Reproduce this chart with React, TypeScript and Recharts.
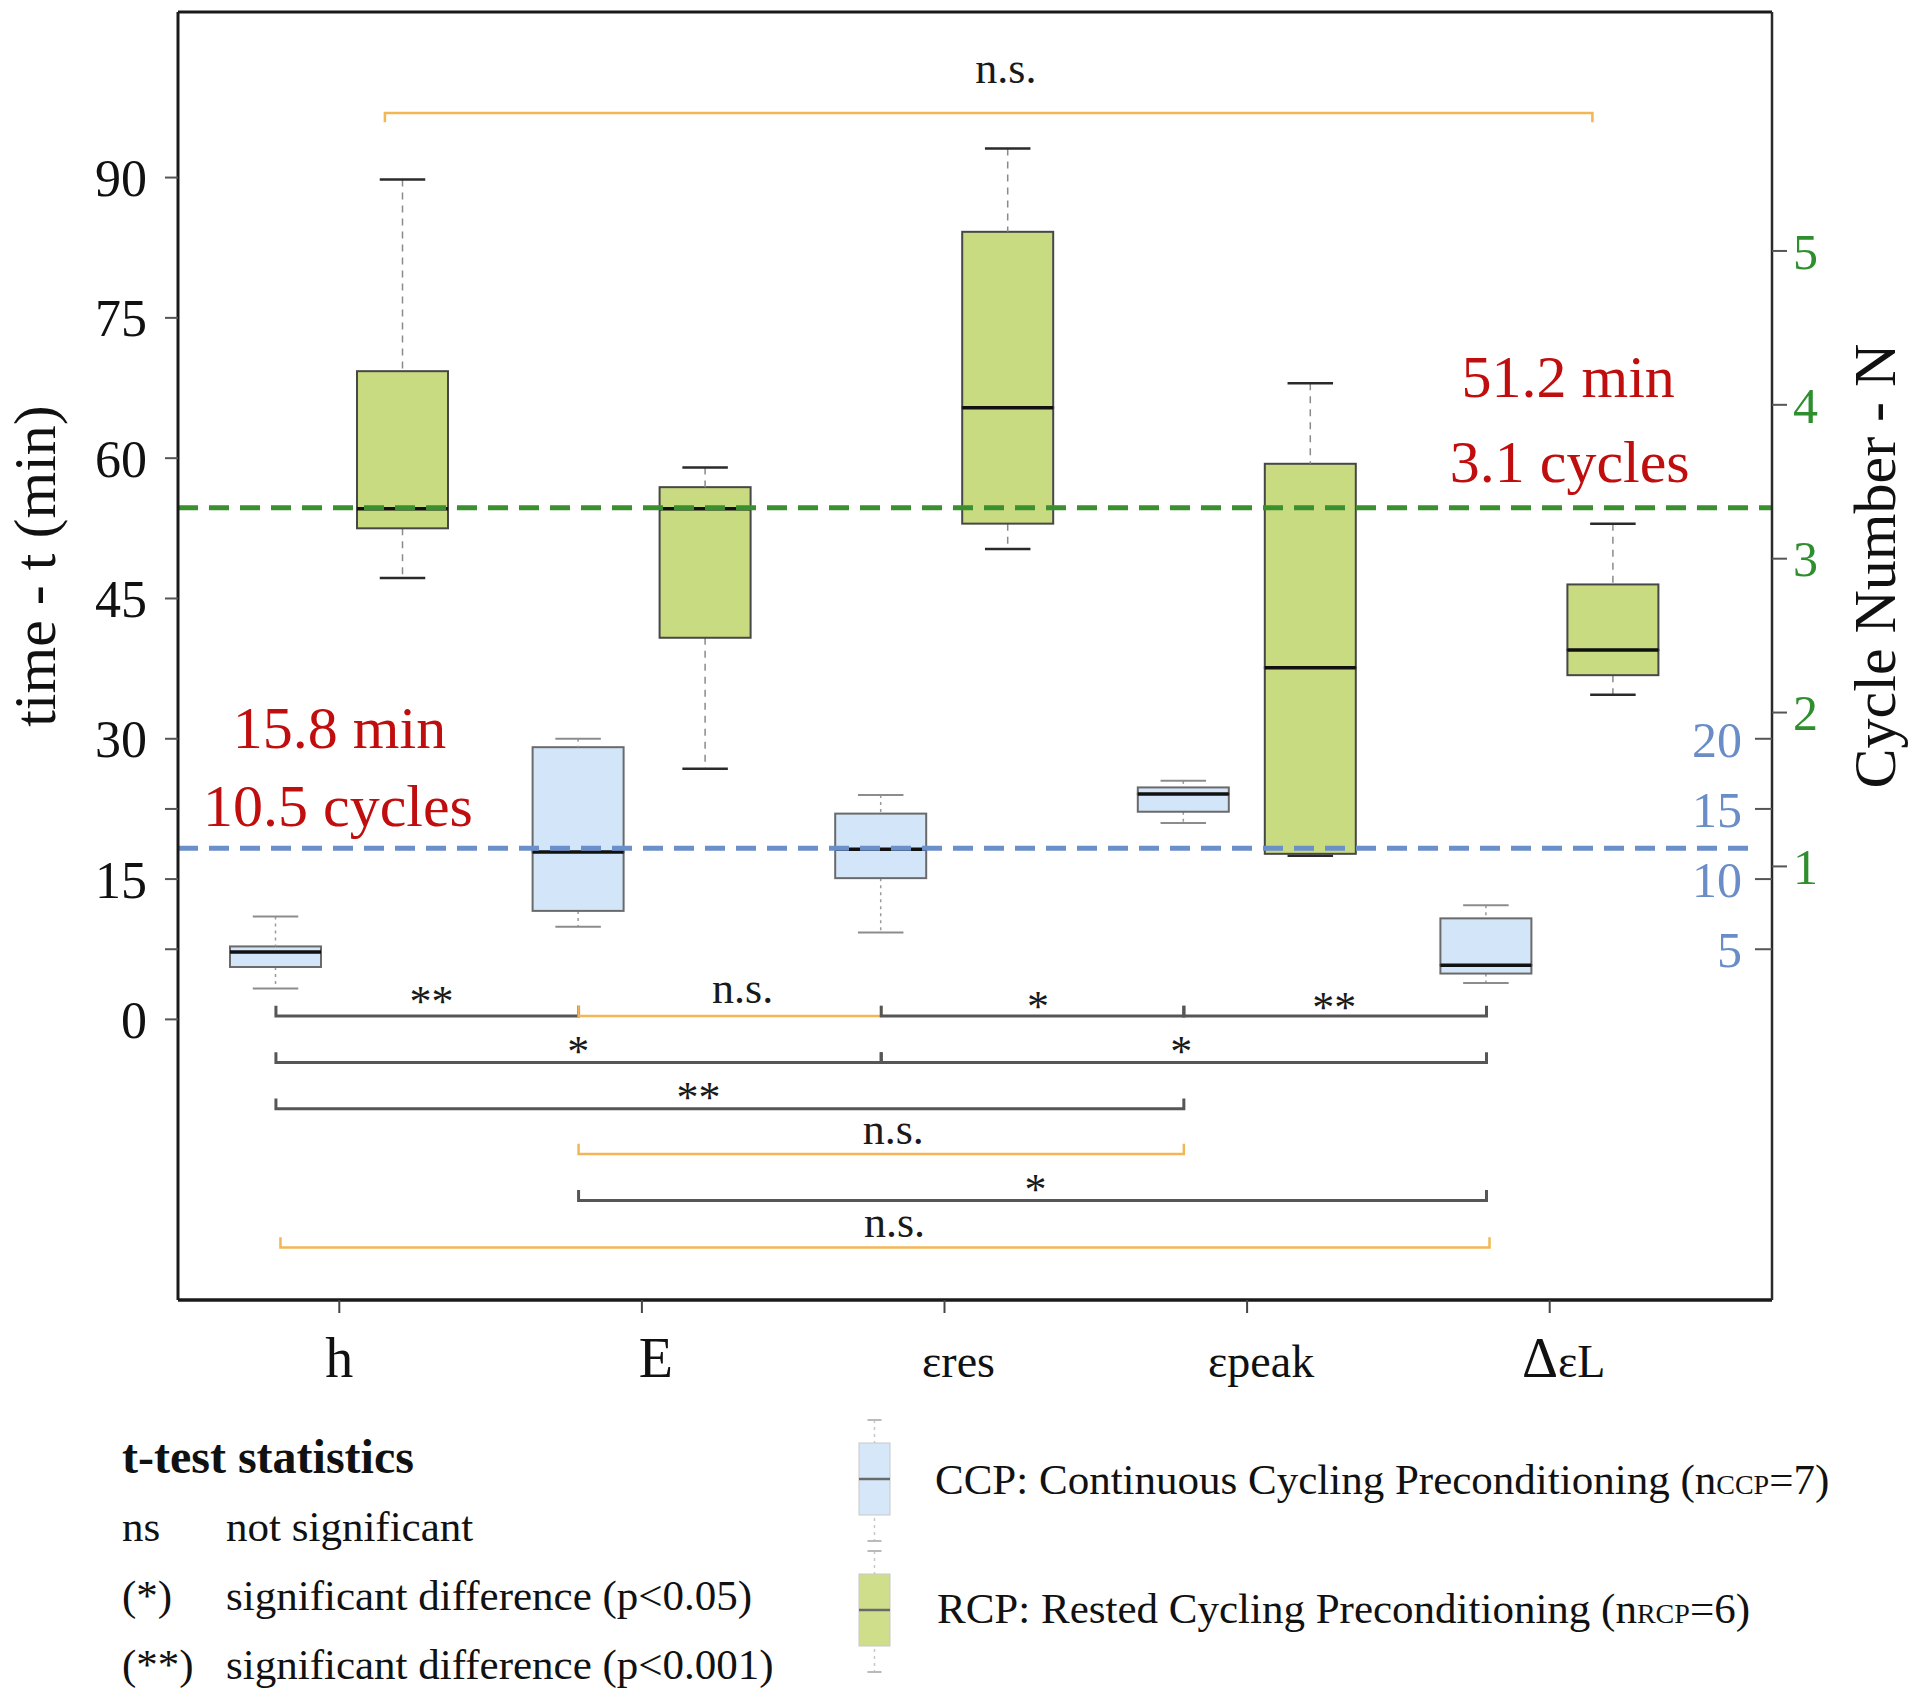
import React from 'react';
import { ComposedChart, Bar, Line, Scatter, XAxis, YAxis, ReferenceLine } from 'recharts';

const SERIF = "'Liberation Serif', 'Times New Roman', serif";

const categories = ['h', 'E', 'εres', 'εpeak', 'ΔεL'];

// CCP: continuous cycling preconditioning, time (min)
const ccpMin = [3.3, 9.9, 9.3, 21.0, 3.9];
const ccpQ1 = [5.6, 11.6, 15.1, 22.2, 4.9];
const ccpMedian = [7.2, 17.9, 18.2, 24.1, 5.8];
const ccpQ3 = [7.8, 29.1, 22.0, 24.8, 10.8];
const ccpMax = [11.0, 30.0, 24.0, 25.5, 12.2];

// RCP: rested cycling preconditioning, time (min)
const rcpMin = [47.2, 26.8, 50.3, 17.5, 34.7];
const rcpQ1 = [52.5, 40.8, 53.0, 17.7, 36.8];
const rcpMedian = [54.6, 54.6, 65.4, 37.6, 39.5];
const rcpQ3 = [69.3, 56.9, 84.2, 59.4, 46.5];
const rcpMax = [89.8, 59.0, 93.1, 68.0, 53.0];

// dashed reference levels (min)
const ccpMeanTime = 18.3;
const rcpMeanTime = 54.7;

const timeTicks = [0, 7.5, 15, 22.5, 30, 45, 60, 75, 90];
const timeLabelled = [0, 15, 30, 45, 60, 75, 90];
const rcpCycleTicks = [1, 2, 3, 4, 5];
const ccpCycleTicks = [5, 10, 15, 20];

const timeDomain = [-30, 107.7];
const rcpCycleDomain = [-1.818, 6.553];
const ccpCycleDomain = [-20, 71.8];
// numeric x: category k is centred on x = k
const xDomain = [0.4664, 5.7334];
const ccpLineEnd = 5.684;

// t-test brackets
const bracketFrom = [0.79, 1.79, 2.79, 3.79, 0.79, 2.79, 0.79, 1.79, 1.79, 0.805, 1.15];
const bracketTo = [1.79, 2.79, 3.79, 4.79, 2.79, 4.79, 3.79, 3.79, 4.79, 4.8, 5.14];
const bracketLevel = [0.36, 0.36, 0.36, 0.36, -4.6, -4.6, -9.55, -14.4, -19.35, -24.4, 96.9];
const bracketTick = [1.1, 1.1, 1.1, 1.1, 1.1, 1.1, 1.1, 1.1, 1.1, 1.1, -1.0];
const bracketText = ['**', 'n.s.', '*', '**', '*', '*', '**', 'n.s.', '*', 'n.s.', 'n.s.'];
const bracketTextX = [1.304, 2.332, 3.308, 4.287, 1.789, 3.781, 2.186, 2.83, 3.3, 2.834, 3.202];
const bracketTextY = [0.36, 1.8, -0.15, -0.3, -5.0, -5.0, -9.95, -13.35, -19.75, -23.3, 100.1];

// red annotations
const noteText = ['51.2 min', '3.1 cycles', '15.8 min', '10.5 cycles'];
const noteX = [5.06, 5.065, 1.0, 0.995];
const noteY = [66.5, 57.5, 29.0, 20.7];

const statSymbols = ['ns', '(*)', '(**)'];
const statMeanings = ['not significant', 'significant difference (p<0.05)', 'significant difference (p<0.001)'];

const boxData = categories.map((name, i) => ({
  name,
  ccpBase: ccpMin[i],
  ccpLowWhisker: ccpQ1[i] - ccpMin[i],
  ccpLowBox: ccpMedian[i] - ccpQ1[i],
  ccpHighBox: ccpQ3[i] - ccpMedian[i],
  ccpHighWhisker: ccpMax[i] - ccpQ3[i],
  rcpBase: rcpMin[i],
  rcpLowWhisker: rcpQ1[i] - rcpMin[i],
  rcpLowBox: rcpMedian[i] - rcpQ1[i],
  rcpHighBox: rcpQ3[i] - rcpMedian[i],
  rcpHighWhisker: rcpMax[i] - rcpQ3[i],
}));

const bracketLabelData = bracketText.map((text, i) => ({ x: bracketTextX[i], y: bracketTextY[i], text }));
const noteData = noteText.map((text, i) => ({ x: noteX[i], y: noteY[i], text }));

interface GroupStyle {
  fill: string;
  stroke: string;
  whisker: string;
  whiskerDash: string;
  cap: string;
  capWidth: number;
}

const ccpStyle: GroupStyle = { fill: '#cde2f8', stroke: '#6a6a6a', whisker: '#9a9a9a', whiskerDash: '3 4', cap: '#8c8c8c', capWidth: 2 };
const rcpStyle: GroupStyle = { fill: '#c2d66e', stroke: '#474747', whisker: '#8a8a8a', whiskerDash: '7 6', cap: '#2a2a2a', capWidth: 2.5 };

const boxPart = (part: string, s: GroupStyle) => (props: any) => {
  const { x, y, width, height } = props;
  const cx = x + width / 2;
  const cap = width / 4;
  if (part === 'lowWhisker') {
    return (
      <g>
        <line x1={cx} x2={cx} y1={y} y2={y + height} stroke={s.whisker} strokeWidth={1.5} strokeDasharray={s.whiskerDash} />
        <line x1={cx - cap} x2={cx + cap} y1={y + height} y2={y + height} stroke={s.cap} strokeWidth={s.capWidth} />
      </g>
    );
  }
  if (part === 'highWhisker') {
    return (
      <g>
        <line x1={cx} x2={cx} y1={y} y2={y + height} stroke={s.whisker} strokeWidth={1.5} strokeDasharray={s.whiskerDash} />
        <line x1={cx - cap} x2={cx + cap} y1={y} y2={y} stroke={s.cap} strokeWidth={s.capWidth} />
      </g>
    );
  }
  if (part === 'lowBox') {
    return <rect x={x} y={y} width={width} height={height} fill={s.fill} fillOpacity={0.88} stroke={s.stroke} strokeWidth={2} />;
  }
  if (part === 'highBox') {
    return (
      <g>
        <rect x={x} y={y} width={width} height={height} fill={s.fill} fillOpacity={0.88} stroke={s.stroke} strokeWidth={2} />
        <line x1={x} x2={x + width} y1={y + height} y2={y + height} stroke="#111" strokeWidth={3.5} />
      </g>
    );
  }
  return <g />;
};

const CategoryTick = (props: any) => {
  const { x, y, payload } = props;
  const name: string = payload.value;
  // labels after the first sit a little right of their tick in the original
  const shift = name === 'h' ? 0 : 14;
  const common = { x: x + shift, y: y + 40, textAnchor: 'middle' as const, fontFamily: SERIF, fill: '#111' };
  if (name === 'ΔεL') {
    return (
      <text {...common}>
        <tspan fontSize={56}>Δ</tspan>
        <tspan fontSize={46}>εL</tspan>
      </text>
    );
  }
  if (name.startsWith('ε')) {
    return <text {...common} fontSize={46}>{name}</text>;
  }
  return <text {...common} fontSize={56}>{name}</text>;
};

const AxisTitle = ({ px, py, text }: { px: number; py: number; text: string }) => (
  <text transform={`translate(${px}, ${py}) rotate(-90)`} textAnchor="middle" fontFamily={SERIF} fontSize={60} fill="#111">
    {text}
  </text>
);

const BracketLabel = (props: any) => (
  <text x={props.cx} y={props.cy} textAnchor="middle" fontFamily={SERIF} fontSize={44} fill="#1a1a1a">
    {props.payload.text}
  </text>
);

const NoteLabel = (props: any) => (
  <text x={props.cx} y={props.cy} textAnchor="middle" fontFamily={SERIF} fontSize={60} fill="#c00d0d">
    {props.payload.text}
  </text>
);

const LegendIcon = ({ top, s }: { top: number; s: GroupStyle }) => {
  const cx = 874.5;
  return (
    <g opacity={0.8}>
      <line x1={cx} x2={cx} y1={top} y2={top + 121} stroke="#bbb" strokeWidth={1.5} strokeDasharray="3 4" />
      <line x1={cx - 7} x2={cx + 7} y1={top} y2={top} stroke="#aaa" strokeWidth={2} />
      <line x1={cx - 7} x2={cx + 7} y1={top + 121} y2={top + 121} stroke="#aaa" strokeWidth={2} />
      <rect x={859} y={top + 23} width={31} height={72} fill={s.fill} stroke="#bbb" strokeWidth={1} />
      <line x1={859} x2={890} y1={top + 59} y2={top + 59} stroke="#444" strokeWidth={2.5} />
    </g>
  );
};

const App: React.FC = () => {
  const textStyle = { fontFamily: SERIF, fill: '#111' };
  return (
    <div style={{ position: 'absolute', left: 0, top: 0, width: 1920, height: 1698, background: '#fff' }}>
      <ComposedChart
        width={1920}
        height={1420}
        data={boxData}
        margin={{ top: 12, right: 0, bottom: 20, left: 0 }}
        barGap={36}
      >
        <XAxis
          xAxisId="cat"
          dataKey="name"
          type="category"
          interval={0}
          padding={{ left: 10, right: 71 }}
          height={100}
          tickSize={13}
          tickMargin={24}
          tick={<CategoryTick />}
          axisLine={{ stroke: '#1a1a1a', strokeWidth: 3.5 }}
          tickLine={{ stroke: '#444', strokeWidth: 2 }}
        />
        <XAxis xAxisId="num" dataKey="x" type="number" domain={xDomain} allowDataOverflow hide />
        <YAxis
          yAxisId="left"
          type="number"
          domain={timeDomain}
          allowDataOverflow
          ticks={timeTicks}
          interval={0}
          tickFormatter={(v: number) => (timeLabelled.includes(v) ? String(v) : '')}
          width={178}
          tickSize={13}
          tickMargin={18}
          tick={{ ...textStyle, fontSize: 52 }}
          axisLine={{ stroke: '#1a1a1a', strokeWidth: 3 }}
          tickLine={{ stroke: '#555', strokeWidth: 2 }}
          label={<AxisTitle px={55} py={566} text="time - t (min)" />}
        />
        <YAxis
          yAxisId="rcpCycles"
          orientation="right"
          type="number"
          domain={rcpCycleDomain}
          allowDataOverflow
          ticks={rcpCycleTicks}
          interval={0}
          width={148}
          tickSize={15}
          tickMargin={6}
          tick={{ fontFamily: SERIF, fill: '#2f8f2f', fontSize: 50 }}
          axisLine={{ stroke: '#2a2a2a', strokeWidth: 2.5 }}
          tickLine={{ stroke: '#555', strokeWidth: 2 }}
          label={<AxisTitle px={1895} py={566} text="Cycle Number - N" />}
        />
        <YAxis
          yAxisId="ccpCycles"
          orientation="right"
          mirror
          type="number"
          domain={ccpCycleDomain}
          allowDataOverflow
          ticks={ccpCycleTicks}
          interval={0}
          width={120}
          tickSize={17}
          tickMargin={13}
          tick={{ fontFamily: SERIF, fill: '#6a8dc8', fontSize: 50 }}
          axisLine={false}
          tickLine={{ stroke: '#555', strokeWidth: 2 }}
        />

        <ReferenceLine yAxisId="left" xAxisId="num" y={timeDomain[1]} stroke="#1a1a1a" strokeWidth={3} />

        <Line
          xAxisId="num"
          yAxisId="left"
          data={[{ x: xDomain[0], y: rcpMeanTime }, { x: xDomain[1], y: rcpMeanTime }]}
          dataKey="y"
          stroke="#3a8f2f"
          strokeWidth={5}
          strokeDasharray="20 11"
          dot={false}
          activeDot={false}
          legendType="none"
          isAnimationActive={false}
        />
        <Line
          xAxisId="num"
          yAxisId="left"
          data={[{ x: xDomain[0], y: ccpMeanTime }, { x: ccpLineEnd, y: ccpMeanTime }]}
          dataKey="y"
          stroke="#6b8fc9"
          strokeWidth={5}
          strokeDasharray="20 11"
          dot={false}
          activeDot={false}
          legendType="none"
          isAnimationActive={false}
        />

        {(['Base', 'LowWhisker', 'LowBox', 'HighBox', 'HighWhisker'] as const).map((p) => (
          <Bar
            key={`ccp${p}`}
            xAxisId="cat"
            yAxisId="left"
            dataKey={`ccp${p}`}
            stackId="ccp"
            barSize={91}
            shape={boxPart(p.charAt(0).toLowerCase() + p.slice(1), ccpStyle)}
            legendType="none"
            isAnimationActive={false}
          />
        ))}
        {(['Base', 'LowWhisker', 'LowBox', 'HighBox', 'HighWhisker'] as const).map((p) => (
          <Bar
            key={`rcp${p}`}
            xAxisId="cat"
            yAxisId="left"
            dataKey={`rcp${p}`}
            stackId="rcp"
            barSize={91}
            shape={boxPart(p.charAt(0).toLowerCase() + p.slice(1), rcpStyle)}
            legendType="none"
            isAnimationActive={false}
          />
        ))}

        {bracketFrom.map((from, i) => {
          const ns = bracketText[i] === 'n.s.';
          const lv = bracketLevel[i];
          const tk = bracketTick[i];
          return (
            <Line
              key={`bracket-${i}`}
              xAxisId="num"
              yAxisId="left"
              data={[
                { x: from, y: lv + tk },
                { x: from, y: lv },
                { x: bracketTo[i], y: lv },
                { x: bracketTo[i], y: lv + tk },
              ]}
              dataKey="y"
              type="linear"
              stroke={ns ? '#f3b654' : '#565656'}
              strokeWidth={ns ? 2.5 : 3}
              dot={false}
              activeDot={false}
              legendType="none"
              isAnimationActive={false}
            />
          );
        })}

        <Scatter xAxisId="num" yAxisId="left" data={bracketLabelData} dataKey="y" shape={BracketLabel} legendType="none" isAnimationActive={false} />
        <Scatter xAxisId="num" yAxisId="left" data={noteData} dataKey="y" shape={NoteLabel} legendType="none" isAnimationActive={false} />
      </ComposedChart>

      <svg width={1920} height={1698} style={{ position: 'absolute', left: 0, top: 0, pointerEvents: 'none' }}>
        <text x={122} y={1473} fontFamily={SERIF} fontSize={48} fontWeight="bold" fill="#111">
          t-test statistics
        </text>
        {statSymbols.map((sym, i) => (
          <g key={sym}>
            <text x={122} y={1541 + i * 69} fontFamily={SERIF} fontSize={43} fill="#111">
              {sym}
            </text>
            <text x={226} y={1541 + i * 69} fontFamily={SERIF} fontSize={43} fill="#111">
              {statMeanings[i]}
            </text>
          </g>
        ))}

        <LegendIcon top={1420} s={ccpStyle} />
        <LegendIcon top={1551} s={rcpStyle} />
        <text x={935} y={1494} fontFamily={SERIF} fontSize={43} fill="#111">
          CCP: Continuous Cycling Preconditioning (n<tspan fontSize={28}>CCP</tspan>=7)
        </text>
        <text x={937} y={1623} fontFamily={SERIF} fontSize={43} fill="#111">
          RCP: Rested Cycling Preconditioning (n<tspan fontSize={28}>RCP</tspan>=6)
        </text>
      </svg>
    </div>
  );
};

export default App;
